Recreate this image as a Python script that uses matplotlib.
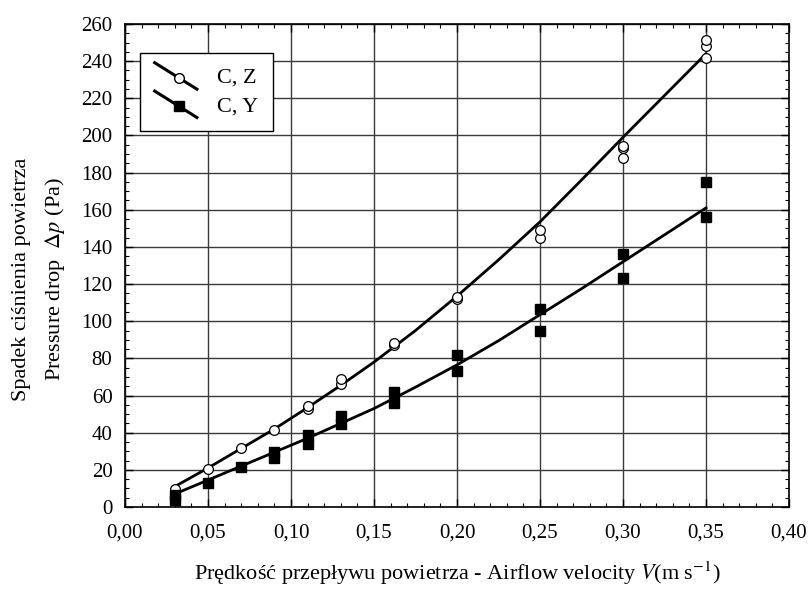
import matplotlib
matplotlib.use("Agg")
import matplotlib.pyplot as plt
from matplotlib.lines import Line2D
from matplotlib.legend_handler import HandlerBase
from matplotlib.ticker import MultipleLocator, FuncFormatter

plt.rcParams['font.family'] = ['Liberation Serif', 'DejaVu Serif']
plt.rcParams['mathtext.fontset'] = 'stix'

# punkty pomiarowe - C, Z (kolka)
xZ = [0.03, 0.05, 0.07, 0.09, 0.11, 0.11, 0.13, 0.13, 0.162, 0.162, 0.20, 0.20,
      0.25, 0.25, 0.30, 0.30, 0.30, 0.35, 0.35, 0.35]
yZ = [9.5, 20.5, 32, 41.5, 52.5, 54.5, 66, 69, 87, 88.5, 112, 113,
      145, 149, 188, 193, 194.5, 241.5, 248, 251.5]

# punkty pomiarowe - C, Y (kwadraty)
xY = [0.03, 0.03, 0.05, 0.07, 0.09, 0.09, 0.11, 0.11, 0.13, 0.13, 0.162, 0.162,
      0.20, 0.20, 0.25, 0.25, 0.30, 0.30, 0.35, 0.35]
yY = [4, 6.5, 13, 21.5, 26.5, 29.5, 34, 39, 44.5, 49, 56, 62,
      73, 82, 95, 106.5, 123.5, 136, 156, 175]

# krzywe dopasowania
xFit = [0.03, 0.05, 0.07, 0.09, 0.11, 0.13, 0.15, 0.175, 0.20, 0.225, 0.25, 0.275, 0.30, 0.325, 0.35]
zFit = [11, 21, 31.5, 42, 53.5, 65.5, 78, 95, 113.5, 133, 153.5, 176, 199, 221.5, 244]
yFit = [7, 14.5, 22, 29.5, 37, 45, 53, 64.5, 76.5, 89.5, 103.5, 117.5, 132, 146.5, 161]


class HandlerSkos(HandlerBase):
    # ukosna linia z markerem w srodku, jak w oryginale
    def create_artists(self, legend, orig, xdescent, ydescent, width, height, fontsize, trans):
        linia = Line2D([0, width], [height * 1.3, -height * 0.4], color="k", lw=2.2)
        znak = Line2D([width * 0.57], [height * 0.33], marker=orig.get_marker(),
                      markersize=orig.get_markersize(), markerfacecolor=orig.get_markerfacecolor(),
                      markeredgecolor="k", linestyle="none")
        linia.set_transform(trans)
        znak.set_transform(trans)
        return [linia, znak]


fig = plt.figure(figsize=(8.08, 5.92), dpi=100)
ax = fig.add_axes([0.1547, 0.1436, 0.8218, 0.8159])

ax.plot(xFit, zFit, color="k", lw=2)
ax.plot(xFit, yFit, color="k", lw=2)
pZ, = ax.plot(xZ, yZ, "o", ms=7, mfc="white", mec="k", mew=0.9, label="C, Z", zorder=3)
pY, = ax.plot(xY, yY, "s", ms=7.5, mfc="k", mec="k", label="C, Y", zorder=3)

ax.set_xlim(0, 0.40)
ax.set_ylim(0, 260)
ax.xaxis.set_major_locator(MultipleLocator(0.05))
ax.xaxis.set_minor_locator(MultipleLocator(0.01))
ax.yaxis.set_major_locator(MultipleLocator(20))
ax.yaxis.set_minor_locator(MultipleLocator(5))
ax.xaxis.set_major_formatter(FuncFormatter(lambda v, p: f"{v:.2f}".replace(".", ",")))
ax.grid(True, which="major", color="#3a3a3a", lw=1)
ax.tick_params(which="both", direction="in", top=True, right=True, labelsize=15, color="k")
ax.tick_params(which="major", length=6, width=1)
ax.tick_params(which="minor", length=3, width=0.8)
ax.tick_params(axis="x", which="major", pad=12)
ax.tick_params(axis="y", which="major", pad=9)
for s in ax.spines.values():
    s.set_linewidth(1.2)

leg = ax.legend(handles=[pZ, pY], handler_map={Line2D: HandlerSkos()},
                loc="upper left", bbox_to_anchor=(0.023, 0.94), borderaxespad=0, fontsize=16,
                frameon=True, fancybox=False, edgecolor="k", framealpha=1,
                handlelength=1.9, handletextpad=0.9, borderpad=0.65, labelspacing=0.35)
leg.get_frame().set_linewidth(1)

ax.set_xlabel("Prędkość przepływu powietrza - Airflow velocity $\\mathit{V}$(m s$^{-1}$)",
              fontsize=16, labelpad=12)
fig.text(0.027, 0.529, "Spadek ciśnienia powietrza", rotation=90, fontsize=16,
         ha="center", va="center")
fig.text(0.068, 0.529, "Pressure drop  $\\mathit{\\Delta p}$ (Pa)", rotation=90, fontsize=16,
         ha="center", va="center")

fig.savefig("out.png", dpi=100)
